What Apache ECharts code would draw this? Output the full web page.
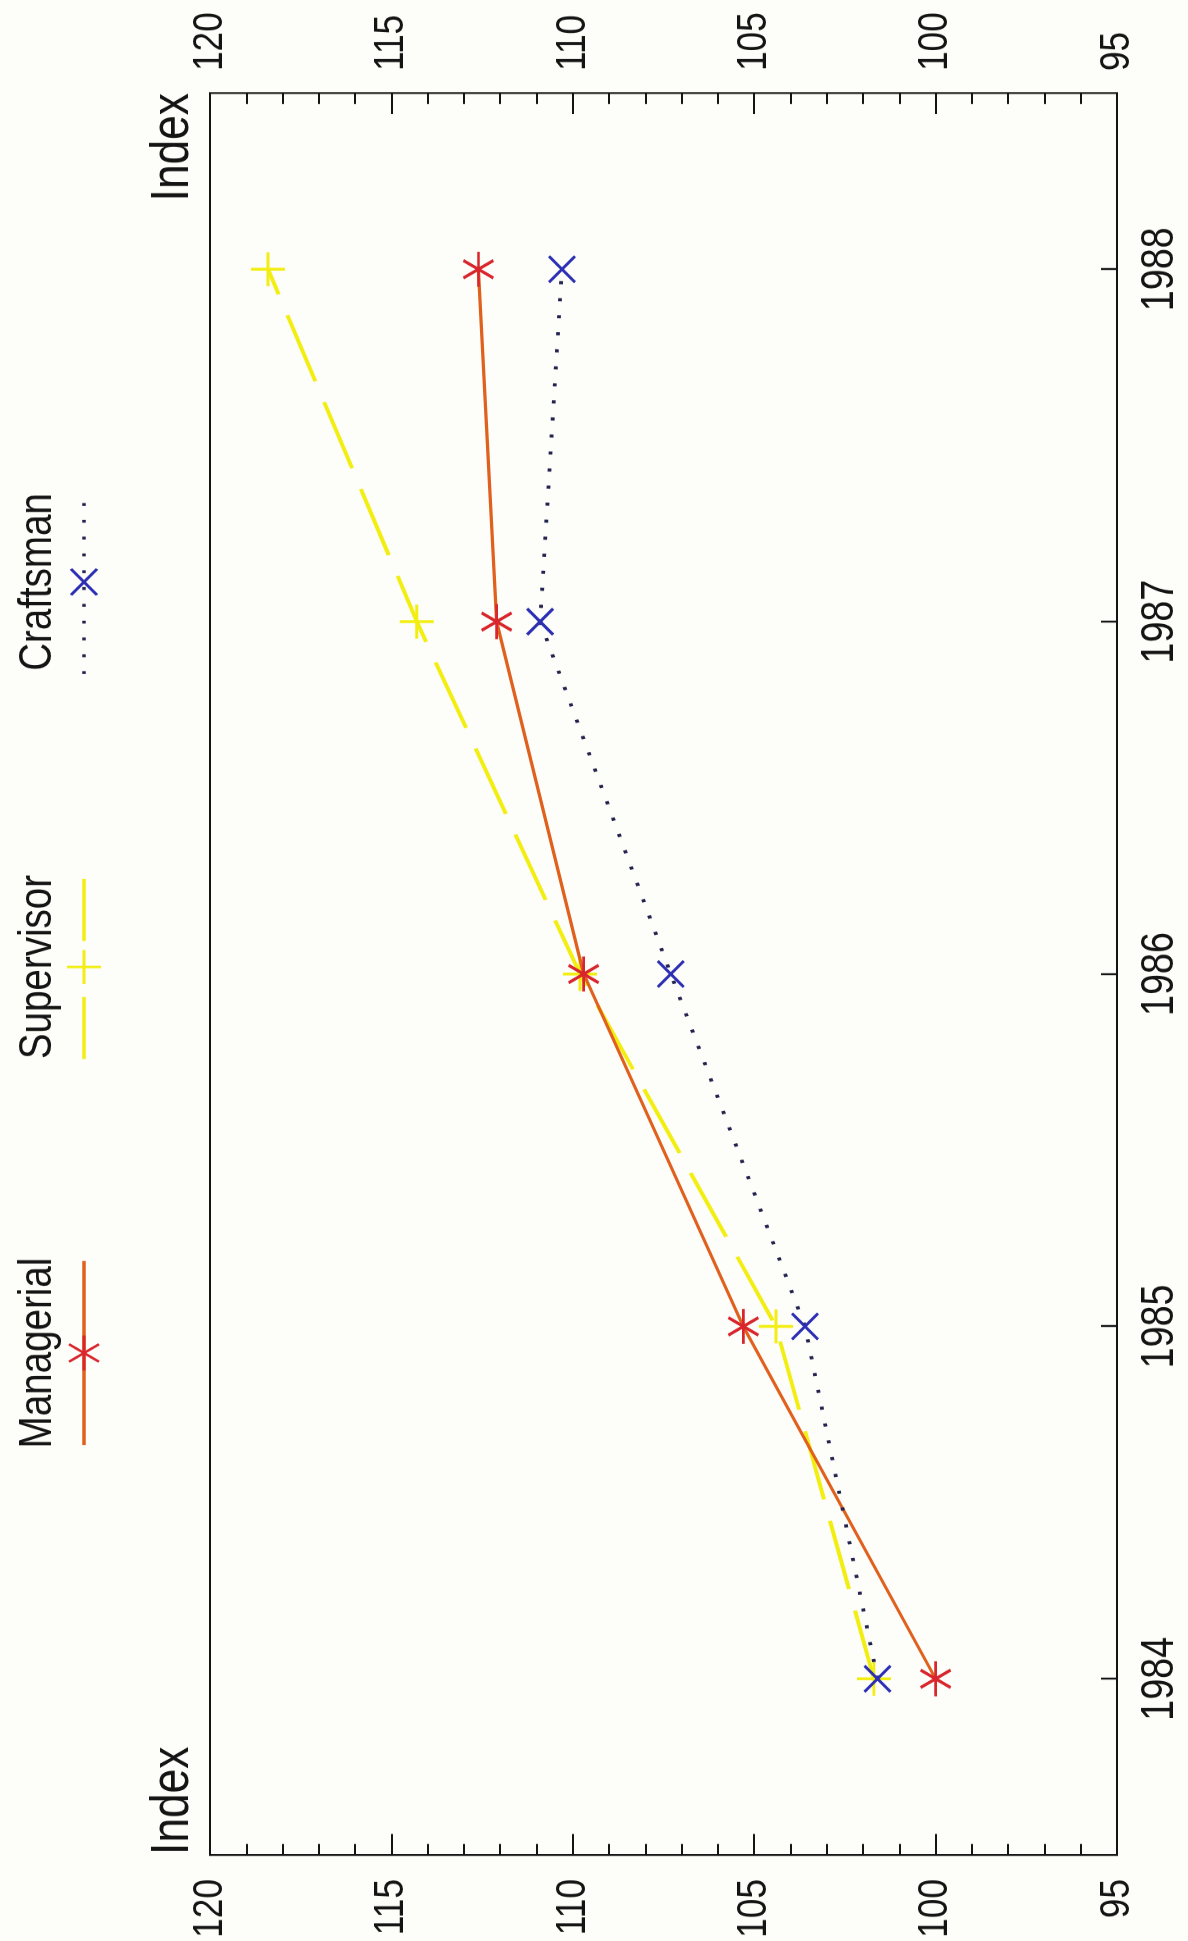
<!DOCTYPE html>
<html>
<head>
<meta charset="utf-8">
<script src="https://cdn.jsdelivr.net/npm/echarts@6/dist/echarts.min.js"></script>
<style>
  html, body { margin: 0; padding: 0; background: #fdfdf9; overflow: hidden; }
  #chart { position: absolute; left: 0; top: 0; width: 2367px; height: 1188px;
           transform-origin: 0 0; transform: translate(0, 1941px) rotate(-90deg) scaleX(0.82); }
</style>
</head>
<body>
<div id="chart"></div>
<script>
const years = ['1984', '1985', '1986', '1987', '1988'];
const managerial = [100.0, 105.3, 109.7, 112.1, 112.6];
const supervisor = [101.7, 104.4, 109.8, 114.3, 118.4];
const craftsman = [101.6, 103.6, 107.3, 110.9, 110.3];
const seriesNames = ['Managerial', 'Supervisor', 'Craftsman'];
const valueMin = 95, valueMax = 120, valueStep = 5;

// the page is laid out sideways and condensed horizontally by SX (CSS transform)
const SX = 0.82;
const W = Math.round(1941 / SX);
const FONT = "'Liberation Sans', Arial, sans-serif";
const INK = '#141414';
const RED_LINE = '#e0601e', RED_MARK = '#d8262c';
const YELLOW = '#f2ee12';
const BLUE_MARK = '#2c2fb4', BLUE_LINE = '#22224e';

const STAR = 'path://M-1 0L1 0M-0.5 -0.866L0.5 0.866M-0.5 0.866L0.5 -0.866';
const PLUS = 'path://M-1 0L1 0M0 -1L0 1';
const CROSS = 'path://M-1 -1L1 1M-1 1L1 -1';

const chart = echarts.init(document.getElementById('chart'), null, {width: W, height: 1188});

function valueAxis(pos) {
  return {
    type: 'value', position: pos, min: valueMin, max: valueMax, interval: valueStep,
    name: 'Index', nameLocation: 'end', nameGap: 10,
    nameTextStyle: { fontFamily: FONT, fontSize: 54, color: INK,
                     align: pos === 'left' ? 'left' : 'right', verticalAlign: 'bottom' },
    axisLine: { show: false },
    axisTick: { show: true, inside: true, length: 21 / SX, lineStyle: { color: INK, width: 2 } },
    minorTick: { show: true, splitNumber: 5, length: 11 / SX, lineStyle: { color: INK, width: 2 } },
    splitLine: { show: false },
    axisLabel: { fontFamily: FONT, fontSize: 43, color: INK, margin: (pos === 'left' ? 24 : 22) / SX }
  };
}

function legendItem(cxScreen, name, lineStroke, dash, markType, markColor, markW, markH) {
  const cx = cxScreen / SX, y = 84, half = 92 / SX, els = [];
  els.push({ type: 'line', shape: { x1: cx - half, y1: y, x2: cx + half, y2: y },
             style: { stroke: lineStroke, lineWidth: 3.5, lineDash: dash } });
  const hw = markW / 2 / SX, hh = markH / 2;
  let segs;
  if (markType === 'star') segs = [[-hw, 0, hw, 0], [-hw / 2, -hh, hw / 2, hh], [-hw / 2, hh, hw / 2, -hh]];
  else if (markType === 'plus') segs = [[-hw, 0, hw, 0], [0, -hh, 0, hh]];
  else segs = [[-hw, -hh, hw, hh], [-hw, hh, hw, -hh]];
  segs.forEach(s => els.push({ type: 'line', z: 10,
    shape: { x1: cx + s[0], y1: y + s[1], x2: cx + s[2], y2: y + s[3] },
    style: { stroke: markColor, lineWidth: 3 } }));
  els.push({ type: 'text', style: { text: name, x: cx, y: 38, textAlign: 'center', textVerticalAlign: 'middle',
             font: '47px ' + FONT, fill: INK } });
  return els;
}

const option = {
  backgroundColor: '#fdfdf9',
  animation: false,
  grid: { left: 86 / SX, right: 93 / SX, top: 210, bottom: 71, show: true,
          borderColor: INK, borderWidth: 2.2, backgroundColor: 'transparent' },
  xAxis: {
    type: 'category', data: years, boundaryGap: true, position: 'bottom',
    axisLine: { show: false },
    axisTick: { show: true, inside: true, alignWithLabel: true, length: 16, lineStyle: { color: INK, width: 2.4 } },
    axisLabel: { fontFamily: FONT, fontSize: 46, color: INK, margin: 20 },
    splitLine: { show: false }
  },
  yAxis: [valueAxis('left'), valueAxis('right')],
  graphic: [].concat(
    legendItem(588, seriesNames[0], RED_LINE, null, 'star', RED_MARK, 35, 30),
    legendItem(974, seriesNames[1], YELLOW, [62 / SX, 56 / SX], 'plus', YELLOW, 34, 34),
    legendItem(1359, seriesNames[2], BLUE_LINE, [3.5, 17], 'cross', BLUE_MARK, 26, 26)
  ),
  series: [
    { name: seriesNames[1], type: 'line', data: supervisor, yAxisIndex: 0, z: 2,
      symbol: PLUS, symbolSize: [34 / SX, 34],
      itemStyle: { color: 'rgba(0,0,0,0)', borderColor: YELLOW, borderWidth: 3.2 },
      lineStyle: { color: YELLOW, width: 4, type: [70 / SX, 22 / SX] } },
    { name: seriesNames[0], type: 'line', data: managerial, yAxisIndex: 0, z: 3,
      symbol: STAR, symbolSize: [35 / SX, 30],
      itemStyle: { color: 'rgba(0,0,0,0)', borderColor: RED_MARK, borderWidth: 3.2 },
      lineStyle: { color: RED_LINE, width: 3.2 } },
    { name: seriesNames[2], type: 'line', data: craftsman, yAxisIndex: 0, z: 4,
      symbol: CROSS, symbolSize: [26 / SX, 26],
      itemStyle: { color: 'rgba(0,0,0,0)', borderColor: BLUE_MARK, borderWidth: 3.2 },
      lineStyle: { color: BLUE_LINE, width: 3.8, type: [3.8, 17] } }
  ]
};
chart.setOption(option);
</script>
</body>
</html>
